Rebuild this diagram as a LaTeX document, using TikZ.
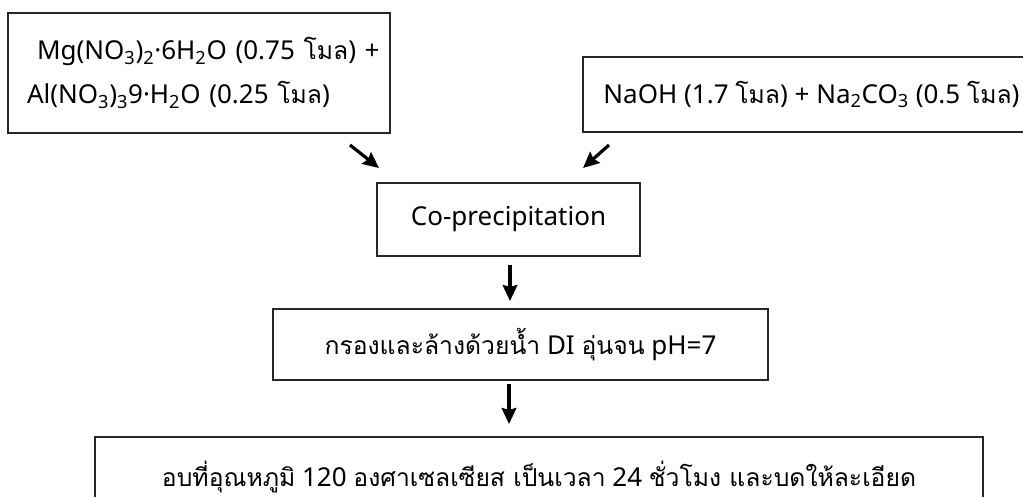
\documentclass[tikz,border=0pt]{standalone}
\usepackage{fontspec}
\setmainfont{Noto Sans}
\newfontfamily\thfont[Script=Thai,Scale=0.95]{Loma}
\newcommand{\tht}[1]{{\thfont #1}}
\usetikzlibrary{arrows.meta}
\begin{document}
\begin{tikzpicture}[x=0.75pt,y=-0.75pt,
  txt/.style={font=\fontsize{19.5}{24}\selectfont},
  box/.style={txt, draw=black!85, line width=1.3pt, rectangle, inner sep=0pt},
  arr/.style={line width=2.4pt, -{Stealth[length=12pt,width=11pt,inset=1.5pt]}}]
\useasboundingbox (0,0) rectangle (1023,496);
\clip (0,0) rectangle (1023,496);
\fill[white] (0,0) rectangle (1023,496);
\node[box, minimum width=286.5pt, minimum height=90pt, text width=258pt, align=left] (b1) at (199,73)
  {\hspace*{7.5pt}\mbox{Mg(NO\textsubscript{3})\textsubscript{2}·6H\textsubscript{2}O (0.75 \tht{โมล}) +}\\[9pt]\mbox{Al(NO\textsubscript{3})\textsubscript{3}9·H\textsubscript{2}O (0.25 \tht{โมล})}};
\node[box, minimum width=342.75pt, minimum height=56.25pt] (b2) at (811.5,94.5)
  {NaOH (1.7 \tht{โมล}) + Na\textsubscript{2}CO\textsubscript{3} (0.5 \tht{โมล})};
\node[box, minimum width=197.25pt, minimum height=54.75pt] (cop) at (508.5,219.5) {Co-precipitation};
\node[box, minimum width=371.25pt, minimum height=53.25pt] (fil) at (520.5,344.5) {\tht{กรองและล้างด้วยน้ำ} DI \tht{อุ่นจน} pH=7};
\node[box, minimum width=666pt, minimum height=62.25pt] (bak) at (539,478.5) {};
\node[txt, anchor=base] (bakt) at (539,486) {\tht{อบที่อุณหภูมิ} 120 \tht{องศาเซลเซียส เป็นเวลา} 24 \tht{ชั่วโมง และบดให้ละเอียด}};
\coordinate (a1s) at (350,145); \coordinate (a1e) at (379,168);
\coordinate (a2s) at (609,145); \coordinate (a2e) at (583,168);
\coordinate (a3s) at (510,265); \coordinate (a3e) at (510,301);
\coordinate (a4s) at (509,384); \coordinate (a4e) at (509,424);
\draw[arr] (a1s) -- (a1e);
\draw[arr] (a2s) -- (a2e);
\draw[arr] (a3s) -- (a3e);
\draw[arr] (a4s) -- (a4e);
\end{tikzpicture}
\end{document}
